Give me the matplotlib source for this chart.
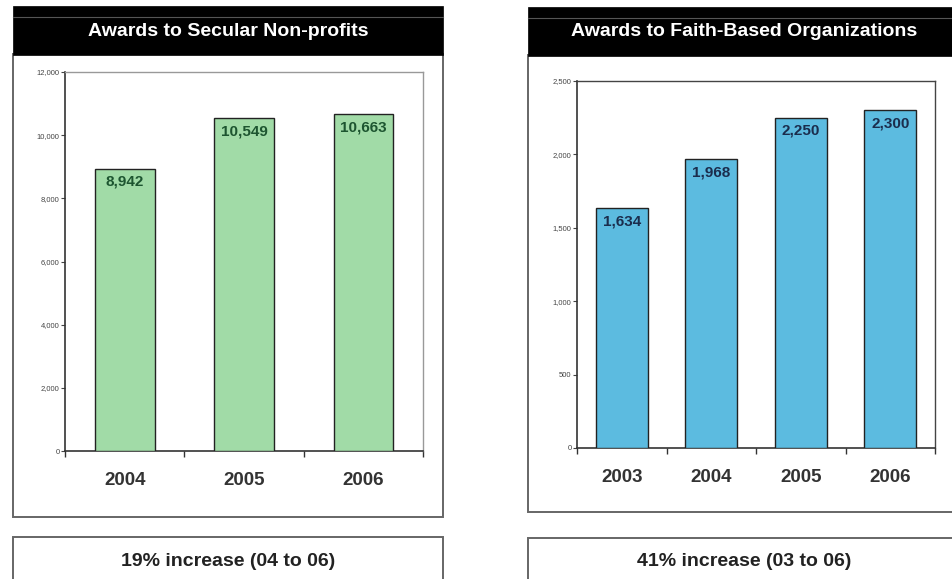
import matplotlib.pyplot as plt
from matplotlib.patches import Rectangle
from matplotlib.lines import Line2D
from matplotlib.ticker import FuncFormatter

plt.rcParams['font.family'] = ['Liberation Sans', 'DejaVu Sans']

# data
secular_years = ['2004', '2005', '2006']
secular_awards = [8942, 10549, 10663]
secular_ticks = [0, 2000, 4000, 6000, 8000, 10000, 12000]

faith_years = ['2003', '2004', '2005', '2006']
faith_awards = [1634, 1968, 2250, 2300]
faith_ticks = [0, 500, 1000, 1500, 2000, 2500]

W, H = 952, 579


def px_rect(x0, y0, x1, y1):
    """pixel box (top-left origin) -> figure fraction rect"""
    return (x0 / W, 1 - y1 / H, (x1 - x0) / W, (y1 - y0) / H)


def add_box(fig, x0, y0, x1, y1, face='white', edge='#666666', lw=1.4):
    l, b, w, h = px_rect(x0, y0, x1, y1)
    fig.patches.append(Rectangle((l, b), w, h, transform=fig.transFigure,
                                 facecolor=face, edgecolor=edge, linewidth=lw, zorder=-2))


def draw_panel(fig, box, header, ax_px, years, values, ticks, bar_color,
               label_color, bar_width, frame_color, note, note_box):
    x0, y0, x1, y1 = box
    # outer box and black header
    add_box(fig, x0, y0 + 48, x1, y1)
    add_box(fig, x0, y0, x1, y0 + 49, face='black', edge='black', lw=0.5)
    fig.lines.append(Line2D([x0 / W, x1 / W], [1 - (y0 + 11) / H] * 2,
                            transform=fig.transFigure, color='#555555',
                            linewidth=0.8, zorder=-1))
    fig.text((x0 + x1) / 2 / W, 1 - (y0 + 25) / H, header, color='white',
             fontsize=14, fontweight='bold', ha='center', va='center')

    ax = fig.add_axes(px_rect(*ax_px))
    ax.patch.set_alpha(0)
    pos = range(len(years))
    ax.bar(pos, values, width=bar_width, color=bar_color, edgecolor='#222222',
           linewidth=1.0, zorder=3)
    for p, v in zip(pos, values):
        ax.annotate(f'{v:,}', (p, v), xytext=(0, -4.5), textcoords='offset points',
                    ha='center', va='top', fontsize=11, fontweight='bold',
                    color=label_color, zorder=4)
    ax.set_xlim(-0.5, len(years) - 0.5)
    ax.set_ylim(0, ticks[-1])
    ax.set_yticks(ticks)
    ax.yaxis.set_major_formatter(FuncFormatter(lambda v, _: f'{int(v):,}'))
    ax.tick_params(axis='y', labelsize=5.5, labelcolor='#444444', length=3,
                   width=0.8, color='#444444', pad=1)
    ax.set_xticks(list(pos))
    ax.set_xticklabels(years, fontsize=13.5, fontweight='bold', color='#333333')
    ax.tick_params(axis='x', length=0, pad=15)
    ax.set_xticks([p + 0.5 for p in range(-1, len(years))], minor=True)
    ax.tick_params(axis='x', which='minor', length=4, width=1.0, color='#333333')
    for s in ['left', 'bottom']:
        ax.spines[s].set_color('#333333')
        ax.spines[s].set_linewidth(1.2)
    for s in ['top', 'right']:
        ax.spines[s].set_color(frame_color)
        ax.spines[s].set_linewidth(1.0)

    nx0, ny0, nx1, ny1 = note_box
    add_box(fig, nx0, ny0, nx1, ny1)
    fig.text((nx0 + nx1) / 2 / W, 1 - 561 / H, note, fontsize=14, fontweight='bold',
             color='#222222', ha='center', va='center',
             family=['Liberation Sans Narrow', 'Liberation Sans', 'DejaVu Sans'])
    return ax


fig = plt.figure(figsize=(W / 100, H / 100), dpi=100)

draw_panel(fig, (13, 6, 443, 517), 'Awards to Secular Non-profits',
           (65, 72, 423, 451), secular_years, secular_awards, secular_ticks,
           '#a1dba7', '#1d5530', 0.5, '#999999',
           '19% increase (04 to 06)', (13, 537, 443, 590))

draw_panel(fig, (528, 7, 960, 512), 'Awards to Faith-Based Organizations',
           (577, 81, 935, 448), faith_years, faith_awards, faith_ticks,
           '#5cbbe0', '#1b2d4d', 0.58, '#444444',
           '41% increase (03 to 06)', (528, 538, 960, 590))

fig.savefig('out.png', dpi=100)
